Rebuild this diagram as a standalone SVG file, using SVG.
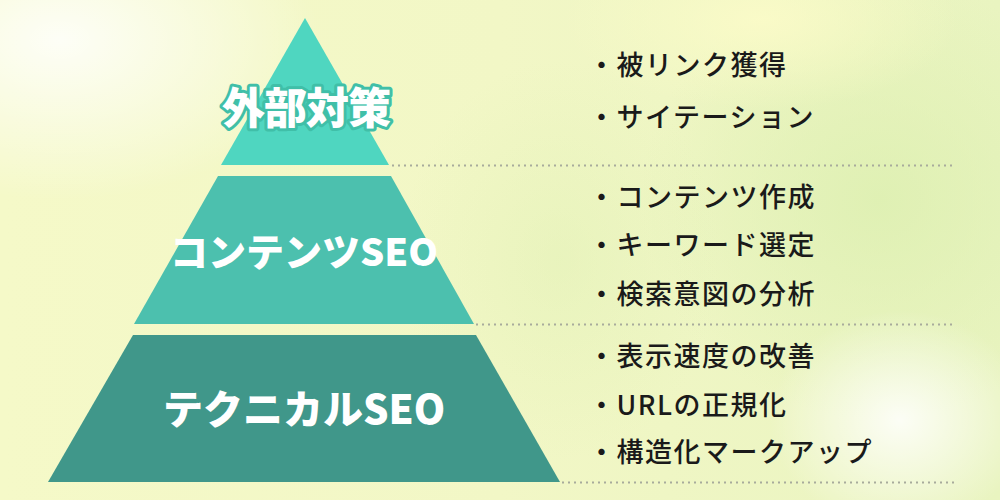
<svg xmlns="http://www.w3.org/2000/svg" width="1000" height="500" viewBox="0 0 1000 500">
  <defs>
    <linearGradient id="bg" x1="0" y1="0" x2="1" y2="0">
      <stop offset="0" stop-color="#f5f9c8"/>
      <stop offset="0.5" stop-color="#f2f7c6"/>
      <stop offset="1" stop-color="#e9f4c0"/>
    </linearGradient>
    <radialGradient id="w1" cx="0.5" cy="0.5" r="0.5">
      <stop offset="0" stop-color="#ffffff" stop-opacity="0.85"/>
      <stop offset="1" stop-color="#ffffff" stop-opacity="0"/>
    </radialGradient>
    <radialGradient id="g1" cx="0.5" cy="0.5" r="0.5">
      <stop offset="0" stop-color="#dcefb0" stop-opacity="0.8"/>
      <stop offset="1" stop-color="#dcefb0" stop-opacity="0"/>
    </radialGradient>
    <radialGradient id="y1" cx="0.5" cy="0.5" r="0.5">
      <stop offset="0" stop-color="#fbfbc8" stop-opacity="0.9"/>
      <stop offset="1" stop-color="#fbfbc8" stop-opacity="0"/>
    </radialGradient>
    <style>
      .item { font-family: "Noto Sans CJK JP", "Noto Sans", sans-serif; font-size: 27px; font-weight: 500; fill: #1a1a1a; letter-spacing: 1.5px; }
      .label { font-family: "Noto Sans CJK JP", "Noto Sans", sans-serif; font-weight: 900; fill: #ffffff; text-anchor: middle; }
      .dots { stroke: #a8ab9c; stroke-width: 2; stroke-dasharray: 2 4; fill: none; }
    </style>
  </defs>

  <g id="background">
    <rect x="0" y="0" width="1000" height="500" fill="url(#bg)"/>
    <ellipse cx="60" cy="40" rx="260" ry="160" fill="url(#w1)"/>
    <ellipse cx="880" cy="200" rx="240" ry="220" fill="url(#g1)"/>
    <ellipse cx="760" cy="20" rx="200" ry="90" fill="url(#y1)"/>
    <ellipse cx="900" cy="420" rx="130" ry="110" fill="url(#w1)"/>
    <ellipse cx="560" cy="260" rx="160" ry="200" fill="url(#g1)" opacity="0.5"/>
  </g>

  <g id="connectors">
    <line class="dots" x1="392" y1="165.5" x2="954" y2="165.5"/>
    <line class="dots" x1="476" y1="324.5" x2="954" y2="324.5"/>
    <line class="dots" x1="562" y1="482.5" x2="954" y2="482.5"/>
  </g>

  <g id="node-external">
    <polygon points="305,18 389,165 221,165" fill="#4fd6c0"/>
    <text class="label" x="306" y="124" font-size="43" letter-spacing="-1" stroke="#40bfa8" stroke-width="6" stroke-linejoin="round" paint-order="stroke">外部対策</text>
  </g>

  <g id="node-content">
    <polygon points="218,176 391,176 474,324 134,324" fill="#4cc0ae"/>
    <text class="label" x="304" y="266" font-size="38">コンテンツSEO</text>
  </g>

  <g id="node-technical">
    <polygon points="133,335 476,335 560,482 48,482" fill="#40978a"/>
    <text class="label" x="304" y="424" font-size="40">テクニカルSEO</text>
  </g>

  <g id="list-external">
    <text class="item" x="588" y="75">・被リンク獲得</text>
    <text class="item" x="588" y="127">・サイテーション</text>
  </g>
  <g id="list-content">
    <text class="item" x="588" y="207">・コンテンツ作成</text>
    <text class="item" x="588" y="255">・キーワード選定</text>
    <text class="item" x="588" y="304">・検索意図の分析</text>
  </g>
  <g id="list-technical">
    <text class="item" x="588" y="366">・表示速度の改善</text>
    <text class="item" x="588" y="415">・URLの正規化</text>
    <text class="item" x="588" y="462">・構造化マークアップ</text>
  </g>
</svg>
